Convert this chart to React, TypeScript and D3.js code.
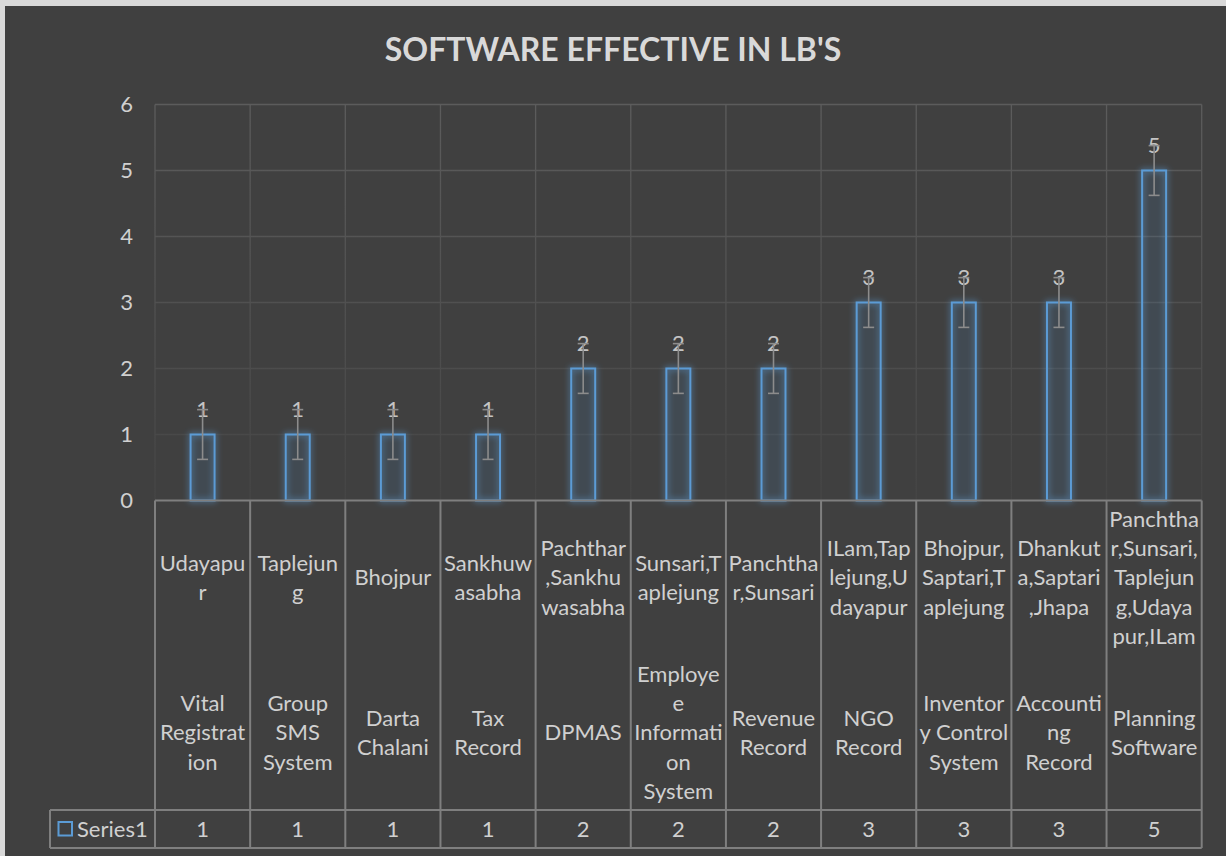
import React from "react";
import * as d3 from "d3";

// chart values
const districts = [
    ["Udayapu", "r"],
    ["Taplejun", "g"],
    ["Bhojpur"],
    ["Sankhuw", "asabha"],
    ["Pachthar", ",Sankhu", "wasabha"],
    ["Sunsari,T", "aplejung"],
    ["Panchtha", "r,Sunsari"],
    ["ILam,Tap", "lejung,U", "dayapur"],
    ["Bhojpur,", "Saptari,T", "aplejung"],
    ["Dhankut", "a,Saptari", ",Jhapa"],
    ["Panchtha", "r,Sunsari,", "Taplejun", "g,Udaya", "pur,ILam"],
];
const software = [
    ["Vital", "Registrat", "ion"],
    ["Group", "SMS", "System"],
    ["Darta", "Chalani"],
    ["Tax", "Record"],
    ["DPMAS"],
    ["Employe", "e", "Informati", "on", "System"],
    ["Revenue", "Record"],
    ["NGO", "Record"],
    ["Inventor", "y Control", "System"],
    ["Accounti", "ng", "Record"],
    ["Planning", "Software"],
];
const values = [1, 1, 1, 1, 2, 2, 2, 3, 3, 3, 5];
const yTicks = [0, 1, 2, 3, 4, 5, 6];
const seriesName = "Series1";
const title = "SOFTWARE EFFECTIVE IN LB'S";
// standard error bars, same amount for every bar
const errorAmount = 0.377;

const W = 1226;
const H = 856;
const plotLeft = 155;
const plotRight = 1201.7;
const plotTop = 104.5;
const plotBottom = 500.5;
const levelSplit = 655;
const tableTop = 810;
const tableBottom = 848;
const legendLeft = 50;
const lineH = 29.3;

const font = "Lato, 'Open Sans', sans-serif";
const textColor = "#d0d0d0";
const tableLine = "#7f7f7f";
const blue = "#5B9BD5";

const App = () => {
    const idx = values.map((_, i) => i);
    const x = d3.scaleBand<number>().domain(idx).range([plotLeft, plotRight]).padding(0);
    const y = d3.scaleLinear().domain([0, 6]).range([plotBottom, plotTop]);
    const bw = x.bandwidth();
    const barW = bw * 0.252;

    const multiline = (lines: string[], cx: number, cy: number, key: string) => {
        const start = cy - ((lines.length - 1) * lineH) / 2;
        return lines.map((l, j) => (
            <text key={key + j} x={cx} y={start + j * lineH} dy="0.35em"
                textAnchor="middle" fontSize={22} fill={textColor}>{l}</text>
        ));
    };

    return (
        <div style={{ position: "fixed", left: 0, top: 0 }}>
            <svg width={W} height={H} style={{ display: "block", fontFamily: font }}>
                <defs>
                    <linearGradient id="grid" gradientUnits="userSpaceOnUse" x1="0" y1={plotTop} x2="0" y2={plotBottom}>
                        <stop offset="0" stopColor="#5c5c5c" />
                        <stop offset="1" stopColor="#454545" />
                    </linearGradient>
                    <filter id="glow" x="-50%" y="-20%" width="200%" height="140%">
                        <feGaussianBlur in="SourceGraphic" stdDeviation="3" result="b" />
                        <feMerge>
                            <feMergeNode in="b" />
                            <feMergeNode in="SourceGraphic" />
                        </feMerge>
                    </filter>
                </defs>

                {/* background */}
                <rect x={0} y={0} width={W} height={H} fill="#d9d9d9" />
                <rect x={5} y={6} width={W - 5} height={H - 6} fill="#404040" />

                <text x={613} y={61} textAnchor="middle" fontSize={32} fontWeight="bold" fill="#d9d9d9">{title}</text>

                {/* gridlines */}
                {yTicks.filter(t => t > 0).map(t => (
                    <line key={"h" + t} x1={plotLeft} x2={plotRight} y1={y(t)} y2={y(t)} stroke="url(#grid)" strokeWidth={1.3} />
                ))}
                {idx.map(i => (
                    <line key={"v" + i} x1={x(i)!} x2={x(i)!} y1={plotTop} y2={plotBottom} stroke="url(#grid)" strokeWidth={1.3} />
                ))}
                <line x1={plotRight} x2={plotRight} y1={plotTop} y2={plotBottom} stroke="url(#grid)" strokeWidth={1.3} />

                {/* y axis labels */}
                {yTicks.map(t => (
                    <text key={"yt" + t} x={133} y={y(t)} dy="0.35em" textAnchor="end" fontSize={22} fill={textColor}>{t}</text>
                ))}

                {/* bars */}
                {values.map((v, i) => (
                    <rect key={"b" + i} x={x(i)! + bw / 2 - barW / 2} y={y(v)} width={barW} height={y(0) - y(v)}
                        fill="rgba(91,155,213,0.06)" stroke={blue} strokeWidth={2} filter="url(#glow)" />
                ))}

                {/* data labels */}
                {values.map((v, i) => (
                    <text key={"l" + i} x={x(i)! + bw / 2} y={y(v) - 18} textAnchor="middle" fontSize={22} fill="#c4c4c4">{v}</text>
                ))}

                {/* error bars */}
                {values.map((v, i) => {
                    const cx = x(i)! + bw / 2;
                    return (
                        <g key={"e" + i} stroke="#8c8c8c" strokeWidth={1.6}>
                            <line x1={cx} x2={cx} y1={y(v + errorAmount)} y2={y(v - errorAmount)} />
                            <line x1={cx - 5.5} x2={cx + 5.5} y1={y(v + errorAmount)} y2={y(v + errorAmount)} />
                            <line x1={cx - 5.5} x2={cx + 5.5} y1={y(v - errorAmount)} y2={y(v - errorAmount)} />
                        </g>
                    );
                })}

                {/* category table */}
                <g stroke={tableLine} strokeWidth={2} fill="none">
                    <line x1={plotLeft} x2={plotRight} y1={plotBottom} y2={plotBottom} />
                    {idx.map(i => (
                        <line key={"c" + i} x1={x(i)!} x2={x(i)!} y1={plotBottom} y2={tableBottom} />
                    ))}
                    <line x1={plotRight} x2={plotRight} y1={plotBottom} y2={tableBottom} />
                    <line x1={legendLeft} x2={plotRight} y1={tableTop} y2={tableTop} />
                    <line x1={legendLeft} x2={plotRight} y1={tableBottom} y2={tableBottom} />
                    <line x1={legendLeft} x2={legendLeft} y1={tableTop} y2={tableBottom} />
                </g>
                {idx.map(i => multiline(districts[i], x(i)! + bw / 2, (plotBottom + levelSplit) / 2, "d" + i))}
                {idx.map(i => multiline(software[i], x(i)! + bw / 2, (levelSplit + tableTop) / 2, "s" + i))}

                {/* data table row */}
                <rect x={58.5} y={822} width={13.5} height={13.5} fill="none" stroke={blue} strokeWidth={2} />
                <text x={77} y={(tableTop + tableBottom) / 2} dy="0.35em" fontSize={22} fill={textColor}>{seriesName}</text>
                {values.map((v, i) => (
                    <text key={"t" + i} x={x(i)! + bw / 2} y={(tableTop + tableBottom) / 2} dy="0.35em"
                        textAnchor="middle" fontSize={22} fill={textColor}>{v}</text>
                ))}
            </svg>
        </div>
    );
};

export default App;
